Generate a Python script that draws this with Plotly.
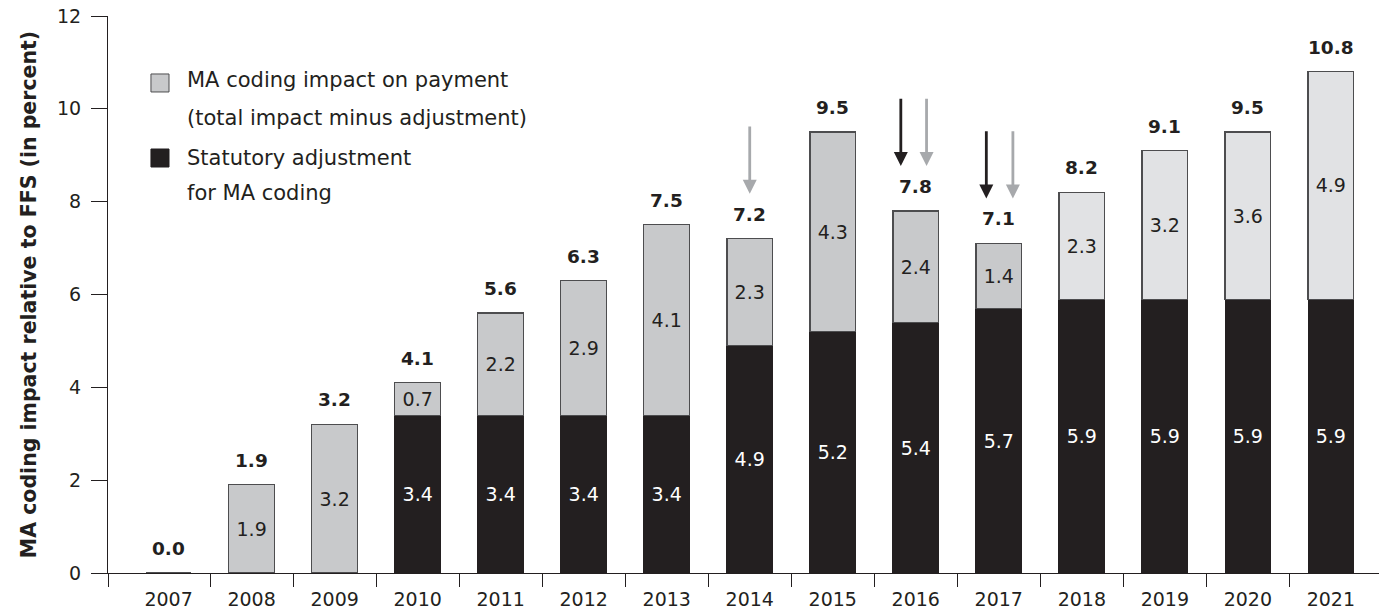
import plotly.graph_objects as go

years = ["2007", "2008", "2009", "2010", "2011", "2012", "2013", "2014",
         "2015", "2016", "2017", "2018", "2019", "2020", "2021"]
statutory = [0, 0, 0, 3.4, 3.4, 3.4, 3.4, 4.9, 5.2, 5.4, 5.7, 5.9, 5.9, 5.9, 5.9]
coding = [0, 1.9, 3.2, 0.7, 2.2, 2.9, 4.1, 2.3, 4.3, 2.4, 1.4, 2.3, 3.2, 3.6, 4.9]
totals = [0.0, 1.9, 3.2, 4.1, 5.6, 6.3, 7.5, 7.2, 9.5, 7.8, 7.1, 8.2, 9.1, 9.5, 10.8]
legend_lines = [
    ["MA coding impact on payment", "(total impact minus adjustment)"],
    ["Statutory adjustment", "for MA coding"],
]
# arrows: (year, colour key, horizontal offset within the category)
arrows = [("2014", "gray", 0.0), ("2016", "black", -0.18), ("2016", "gray", 0.13),
          ("2017", "black", -0.15), ("2017", "gray", 0.17)]

BLACK = "#231f20"
GRAY = "#c8c9cb"
LIGHT = "#e1e2e4"
OUTLINE = "#4d4d4f"
ARROW_GRAY = "#a7a9ac"
FONT = "DejaVu Sans"

coding_colors = [GRAY if int(y) < 2018 else LIGHT for y in years]

fig = go.Figure()
fig.add_trace(go.Bar(
    x=years, y=statutory, name="Statutory adjustment for MA coding",
    marker=dict(color=BLACK, line=dict(color=BLACK, width=1)),
    text=[f"{v:.1f}" if v > 0 else "" for v in statutory],
    textposition="inside", insidetextanchor="middle", textangle=0,
    textfont=dict(color="white", size=19, family=FONT),
    width=0.55, hoverinfo="skip", showlegend=False,
))
fig.add_trace(go.Bar(
    x=years, y=coding, name="MA coding impact on payment (total impact minus adjustment)",
    marker=dict(color=coding_colors, line=dict(color=OUTLINE, width=1.2)),
    text=[f"{v:.1f}" if v > 0 else "" for v in coding],
    textposition="inside", insidetextanchor="middle", textangle=0,
    textfont=dict(color=BLACK, size=19, family=FONT),
    width=0.55, hoverinfo="skip", showlegend=False,
))
# invisible trace for the boundary-tick axis
fig.add_trace(go.Scatter(x=[0], y=[0], xaxis="x2", mode="markers",
                         marker=dict(opacity=0), showlegend=False, hoverinfo="skip"))

for i, t in enumerate(totals):
    fig.add_annotation(x=i, y=t, text=f"<b>{t:.1f}</b>", showarrow=False,
                       xref="x", yref="y", yanchor="bottom", yshift=12,
                       font=dict(size=18.5, color=BLACK, family=FONT))

for yr, col, off in arrows:
    i = years.index(yr)
    t = totals[i]
    fig.add_annotation(x=i + off, y=t + 0.97, ax=i + off, ay=t + 2.45,
                       xref="x", yref="y", axref="x", ayref="y",
                       text="", showarrow=True, arrowhead=2, arrowsize=1.0,
                       arrowwidth=2.8, standoff=0,
                       arrowcolor=BLACK if col == "black" else ARROW_GRAY)

# legend drawn as swatches + text lines (to match the line spacing)
swatches = [(GRAY, OUTLINE, 0.8959), (BLACK, BLACK, 0.7612)]
line_y = [[0.8850, 0.8170], [0.7451, 0.6822]]
for (fill, edge, top), lines, ys in zip(swatches, legend_lines, line_y):
    fig.add_shape(type="rect", xref="paper", yref="paper",
                  x0=0.0338, x1=0.0480, y0=top - 0.0323, y1=top,
                  fillcolor=fill, line=dict(color=edge, width=1))
    for txt, yy in zip(lines, ys):
        fig.add_annotation(x=0.0606, y=yy, xref="paper", yref="paper",
                           text=txt, showarrow=False, xanchor="left", yanchor="middle",
                           font=dict(size=21, color=BLACK, family=FONT))

n = len(years)
fig.update_layout(
    width=1379, height=614,
    margin=dict(l=108, r=0, t=16, b=41),
    barmode="stack",
    plot_bgcolor="white", paper_bgcolor="white",
    font=dict(family=FONT, color=BLACK, size=19),
    xaxis=dict(type="category", range=[-0.73, n - 0.42], showline=True,
               linecolor=BLACK, linewidth=1, ticks="", showgrid=False,
               automargin=False,
               tickfont=dict(size=19, color=BLACK), ticklabelstandoff=9),
    xaxis2=dict(overlaying="x", anchor="y", side="bottom", range=[-0.73, n - 0.42],
                tickmode="array", tickvals=[-0.725] + [i + 0.5 for i in range(n - 1)],
                ticks="outside", ticklen=13, tickcolor=BLACK, tickwidth=1,
                automargin=False,
                showticklabels=False, showgrid=False, zeroline=False, showline=False),
    yaxis=dict(range=[0, 12], dtick=2, showline=True, linecolor=BLACK, linewidth=1,
               ticks="outside", ticklen=16, tickcolor=BLACK, showgrid=False,
               zeroline=False, tickfont=dict(size=19, color=BLACK),
               ticklabelstandoff=6, automargin=False, ticklabeloverflow="allow",
               title=dict(text="<b>MA coding impact relative to FFS (in percent)</b>",
                          font=dict(size=20.5, color=BLACK), standoff=14)),
    showlegend=False,
)

fig.write_html("out.html", config={"displayModeBar": False},
               post_script="document.body.style.margin='0px';"
                           "document.body.style.overflow='hidden';")
